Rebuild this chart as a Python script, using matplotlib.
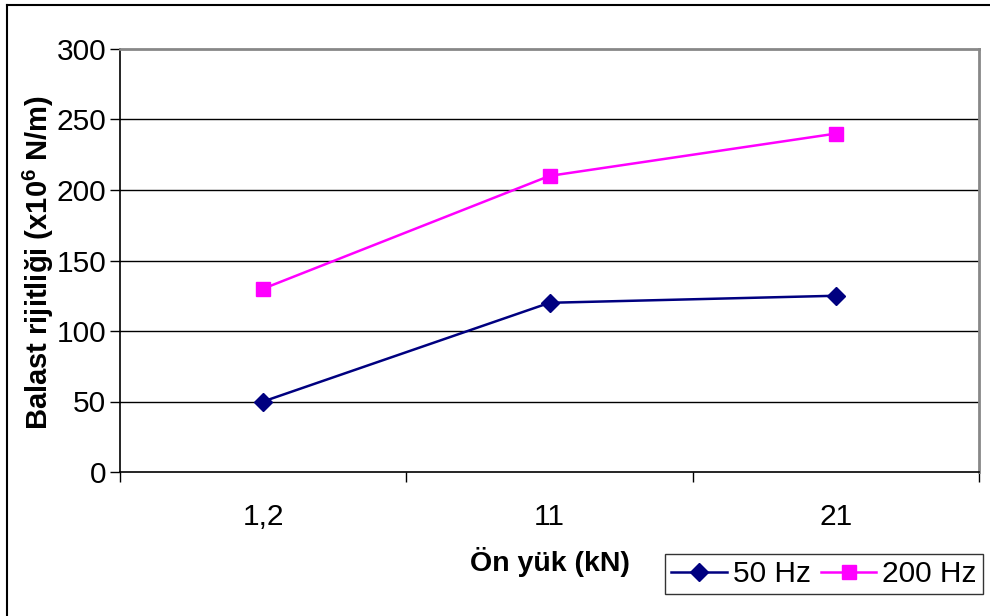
import matplotlib
matplotlib.use("Agg")
import matplotlib.pyplot as plt
from matplotlib.lines import Line2D

plt.rcParams['font.family'] = ['Liberation Sans', 'DejaVu Sans']
plt.rcParams['mathtext.fontset'] = 'custom'
plt.rcParams['mathtext.bf'] = 'Liberation Sans:bold'
plt.rcParams['mathtext.rm'] = 'Liberation Sans'

categories = ["1,2", "11", "21"]
series_50hz = [50, 120, 125]
series_200hz = [130, 210, 240]
y_ticks = [0, 50, 100, 150, 200, 250, 300]

FS = 21.5

fig = plt.figure(figsize=(9.9, 6.16), dpi=100)
ax = fig.add_axes([120 / 990, 1 - 472 / 616, (979 - 120) / 990, (472 - 49) / 616])

x = list(range(len(categories)))

# horizontal gridlines
for v in y_ticks[1:-1]:
    ax.axhline(v, color='black', lw=1.0, zorder=1)

ax.plot(x, series_50hz, color='#000080', lw=1.8, marker='D', markersize=9.5,
        markerfacecolor='#000080', markeredgecolor='#000080', label='50 Hz', zorder=3)
ax.plot(x, series_200hz, color='#FF00FF', lw=1.8, marker='s', markersize=10.5,
        markerfacecolor='#FF00FF', markeredgecolor='#FF00FF', label='200 Hz', zorder=3)

ax.set_ylim(0, 300)
ax.set_xlim(-0.5, len(categories) - 0.5)
ax.set_yticks(y_ticks)
ax.set_yticklabels([str(v) for v in y_ticks], fontsize=FS)
ax.tick_params(axis='y', direction='out', length=7, width=1, pad=3)

# category ticks between categories, labels centred on categories
ax.set_xticks([i - 0.5 for i in range(len(categories) + 1)])
ax.set_xticklabels([])
ax.set_xticks(x, minor=True)
ax.set_xticklabels(categories, minor=True, fontsize=FS)
ax.tick_params(axis='x', which='major', direction='out', length=7, width=1)
ax.tick_params(axis='x', which='minor', length=0, pad=22)

for side in ['top', 'right']:
    ax.spines[side].set_color('#888888')
    ax.spines[side].set_linewidth(2)
for side in ['left', 'bottom']:
    ax.spines[side].set_color('black')
    ax.spines[side].set_linewidth(1.2)

ax.set_xlabel('Ön yük (kN)', fontsize=20.5, fontweight='bold')
ax.set_ylabel('Balast rijitliği (x10$^{\\mathbf{6}}$ N/m)', fontsize=21, fontweight='bold')
ax.xaxis.set_label_coords((550 - 120) / (979 - 120), -(562 - 472) / (472 - 49))
ax.yaxis.set_label_coords(-(120 - 38) / (979 - 120), (472 - 262) / (472 - 49))
ax.xaxis.label.set_va('center')
ax.yaxis.label.set_va('center')

leg = ax.legend(loc='center', ncol=2, fontsize=FS, frameon=True, fancybox=False,
                bbox_to_anchor=(824 / 990, 1 - 574 / 616),
                bbox_transform=fig.transFigure,
                borderpad=0.2, handlelength=1.85, handletextpad=0.2, columnspacing=0.35,
                borderaxespad=0)
leg.get_frame().set_edgecolor('black')
leg.get_frame().set_linewidth(1.0)

# outer chart border (left and top edges)
fig.add_artist(Line2D([7 / 990, 7 / 990], [0, 1 - 5 / 616], transform=fig.transFigure,
                      color='black', lw=1.5))
fig.add_artist(Line2D([7 / 990, 1], [1 - 5 / 616, 1 - 5 / 616], transform=fig.transFigure,
                      color='black', lw=1.5))

fig.savefig('out.png', dpi=100)
